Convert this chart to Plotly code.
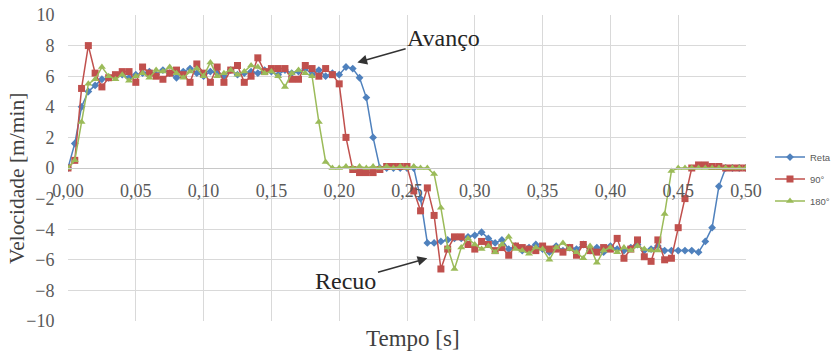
import plotly.graph_objects as go

# time axis (s)
tempo = [round(i * 0.005, 3) for i in range(101)]

reta = [
    0.0, 1.6, 4.0, 5.0, 5.4, 5.8, 5.9, 6.0, 6.1, 5.9,
    6.1, 6.2, 6.3, 6.1, 6.4, 6.2, 5.9, 6.3, 6.5, 6.2,
    6.0, 6.3, 6.2, 6.0, 6.4, 6.1, 6.2, 6.3, 6.2, 6.4,
    6.3, 6.1, 6.4, 6.2, 6.3, 6.5, 6.1, 6.4, 6.0, 6.2,
    6.1, 6.6, 6.5, 5.9, 4.6, 2.0, 0.0, 0.0, 0.0, 0.0,
    0.0, 0.0, -2.0, -4.9, -4.9, -4.8, -4.7, -4.6, -4.6, -4.5,
    -4.4, -4.2, -4.6, -4.9, -4.7, -5.3, -5.1, -5.4, -5.2, -5.0,
    -5.3, -5.5, -5.1, -5.4, -5.2, -5.3, -5.0, -5.4, -5.2, -5.5,
    -5.1, -5.3, -5.4, -5.2, -5.0, -5.4, -5.3, -5.1, -5.4, -5.4,
    -5.4, -5.4, -5.4, -5.5, -4.8, -3.9, -1.2, 0.0, 0.0, 0.0,
    0.0,
]

graus90 = [
    0.0, 0.5, 5.2, 8.0, 6.2, 5.3, 5.9, 6.1, 6.3, 6.3,
    5.6, 6.6, 6.2, 6.0, 5.8, 6.2, 6.4, 6.1, 5.6, 6.8,
    6.2, 5.6, 6.6, 5.6, 6.4, 6.7, 5.6, 6.0, 7.2, 6.3,
    6.5, 6.5, 6.5, 5.8, 5.8, 6.7, 6.5, 6.0, 6.5, 6.1,
    5.5, 2.0, -0.1, -0.3, -0.3, -0.3, -0.1, 0.1, 0.1, 0.1,
    0.1, -1.5, -2.8, -1.3, -3.1, -6.6, -5.3, -4.5, -4.5, -5.0,
    -5.3, -4.8, -5.0, -5.4, -5.2, -5.7, -5.1, -5.2, -5.3, -5.4,
    -5.1, -5.3, -5.3, -5.5, -5.2, -5.7, -5.0, -5.4, -5.5, -5.2,
    -5.3, -4.6, -5.9, -5.3, -4.7, -5.8, -6.1, -4.7, -6.0, -5.9,
    -3.9, -2.0, 0.0, 0.2, 0.2, 0.1, 0.1, 0.0, 0.0, 0.0,
    0.0,
]

graus180 = [
    0.0, 0.5, 3.0, 5.5, 5.8, 6.6, 6.0, 5.8, 6.1, 5.7,
    6.0, 6.2, 5.9, 6.4, 6.3, 6.6, 6.2, 5.9, 6.3, 6.5,
    6.0, 6.9, 6.0, 6.2, 6.4, 6.1, 6.3, 6.7, 6.6, 6.2,
    6.3, 6.0, 5.3, 6.2, 6.4, 6.2, 6.0, 3.0, 0.4, 0.0,
    0.0, 0.1, 0.0, 0.1, 0.0, 0.1, 0.0, 0.1, 0.0, 0.1,
    0.0, 0.1, 0.0, 0.0, -0.4, -2.6, -5.2, -6.6, -5.2, -4.6,
    -5.0, -5.3, -5.1, -5.5, -5.0, -4.5, -5.3, -5.4, -5.6, -5.2,
    -5.3, -6.0, -5.2, -4.9, -5.3, -5.5, -5.9, -5.1, -6.2, -5.4,
    -5.2, -5.5, -5.2, -5.4, -5.1, -5.3, -5.4, -5.4, -3.0, -0.2,
    0.0, 0.0, 0.0, 0.0, 0.0, 0.0, 0.0, 0.0, 0.0, 0.0,
    0.0,
]

series_names = ["Reta", "90°", "180°"]
series_values = [reta, graus90, graus180]
colors = ["#4F81BD", "#C0504D", "#9BBB59"]
symbols = ["diamond", "square", "triangle-up"]
sizes = [6, 7, 7]

serif = "Liberation Serif, Times New Roman, serif"

fig = go.Figure()
for name, vals, col, sym, sz in zip(series_names, series_values, colors, symbols, sizes):
    fig.add_trace(go.Scatter(
        x=tempo, y=vals, name=name, mode="lines+markers",
        line=dict(color=col, width=1.5),
        marker=dict(symbol=sym, size=sz, color=col, line=dict(width=0)),
        legendgroup=name,
    ))

fig.update_layout(
    width=831, height=351,
    margin=dict(l=68, r=85, t=15, b=30, autoexpand=False),
    paper_bgcolor="white", plot_bgcolor="white",
    separators=",.",
    showlegend=True,
    legend=dict(
        x=1.0354, xanchor="left", y=0.583, yanchor="top",
        font=dict(family="Liberation Sans, Arial, sans-serif", size=9.5, color="#595959"),
        itemwidth=30, tracegroupgap=3, traceorder="grouped",
        bgcolor="rgba(0,0,0,0)",
    ),
    xaxis=dict(
        range=[0, 0.5], dtick=0.05, tick0=0, tickformat=".2f",
        showgrid=True, gridcolor="#d9d9d9", gridwidth=1,
        zeroline=False, automargin=False,
        anchor="free", position=0.5,
        showline=True, linecolor="#c8c8c8", linewidth=1,
        ticks="outside", ticklen=6, tickcolor="rgba(0,0,0,0)",
        tickfont=dict(family=serif, size=18, color="#595959"),
    ),
    yaxis=dict(
        range=[-10, 10], dtick=2, tick0=0, domain=[0, 1],
        showgrid=True, gridcolor="#d9d9d9", gridwidth=1,
        zeroline=True, zerolinecolor="#c8c8c8", zerolinewidth=1,
        showline=False, automargin=False,
        ticks="outside", ticklen=9, tickcolor="rgba(0,0,0,0)",
        tickfont=dict(family=serif, size=18, color="#595959"),
    ),
)

# axis titles
fig.add_annotation(
    text="Velocidade [m/min]", xref="paper", yref="paper",
    x=0, y=0.5, xshift=-51, yshift=-11, xanchor="center", yanchor="middle",
    textangle=-90, showarrow=False,
    font=dict(family=serif, size=21.5, color="#404040"),
)
fig.add_annotation(
    text="Tempo [s]", xref="paper", yref="paper",
    x=0.509, y=0, yshift=-17, xanchor="center", yanchor="middle",
    showarrow=False,
    font=dict(family=serif, size=23, color="#404040"),
)

# arrows
fig.add_annotation(
    text="Avanço", x=0.2134, y=6.9, ax=0.277, ay=8.5,
    xref="x", yref="y", axref="x", ayref="y",
    showarrow=True, arrowhead=2, arrowsize=1.3, arrowwidth=1.5,
    arrowcolor="#333333", standoff=0,
    font=dict(family=serif, size=24, color="#262626"),
)
fig.add_annotation(
    text="Recuo", x=0.265, y=-5.9, ax=0.205, ay=-7.4,
    xref="x", yref="y", axref="x", ayref="y",
    showarrow=True, arrowhead=2, arrowsize=1.3, arrowwidth=1.5,
    arrowcolor="#333333", standoff=0,
    font=dict(family=serif, size=24, color="#262626"),
)

fig.write_html(
    "out.html",
    config={"displayModeBar": False},
    post_script="document.body.style.margin='0px';document.body.style.padding='0px';",
)
